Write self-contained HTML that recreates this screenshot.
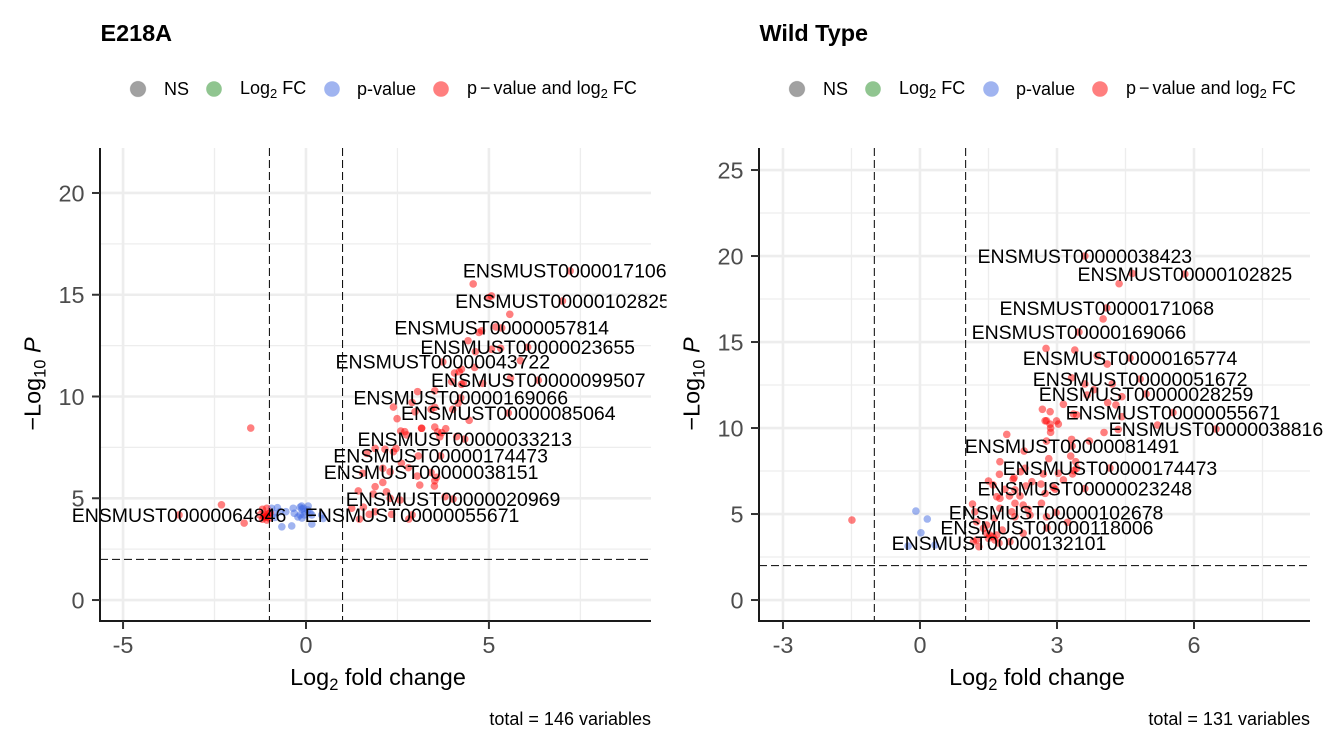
<!DOCTYPE html>
<html>
<head>
<meta charset="utf-8">
<title>Volcano plots</title>
<style>
html,body{margin:0;padding:0;background:#fff;}
svg{display:block;font-family:"Liberation Sans",sans-serif;}
</style>
</head>
<body>
<svg id="chart" width="1333" height="752" viewBox="0 0 1333 752" xmlns="http://www.w3.org/2000/svg">
<defs>
<clipPath id="left-clip"><rect x="0" y="0" width="666.5" height="752"/></clipPath>
<clipPath id="right-clip"><rect x="666.5" y="0" width="666.5" height="752"/></clipPath>
</defs>
<rect x="0" y="0" width="1333" height="752" fill="#fff"/>

<g id="panel-left"></g>
<g id="panel-right"></g>

<text x="100.5" y="41" font-size="23.4" font-weight="bold" fill="#000">E218A</text>
<text x="759.5" y="41" font-size="23.4" font-weight="bold" fill="#000">Wild Type</text>

<g font-size="18" fill="#000">
<circle cx="138" cy="89" r="7.8" fill="#000" fill-opacity=".37" stroke="#555" stroke-opacity=".2"/>
<text x="164" y="95">NS</text>
<circle cx="214" cy="89" r="7.8" fill="#228b22" fill-opacity=".5"/>
<text x="240" y="94">Log<tspan font-size="13" dy="4">2</tspan><tspan dy="-4"> FC</tspan></text>
<circle cx="332" cy="89" r="7.8" fill="#4169e1" fill-opacity=".5"/>
<text x="357" y="95">p-value</text>
<circle cx="441" cy="89" r="7.8" fill="#ff0000" fill-opacity=".5"/>
<text x="467" y="94">p<tspan dx="3">−</tspan><tspan dx="3">value and log</tspan><tspan font-size="13" dy="4">2</tspan><tspan dy="-4"> FC</tspan></text>
</g>

<g font-size="18" fill="#000">
<circle cx="797" cy="89" r="7.8" fill="#000" fill-opacity=".37" stroke="#555" stroke-opacity=".2"/>
<text x="823" y="95">NS</text>
<circle cx="873" cy="89" r="7.8" fill="#228b22" fill-opacity=".5"/>
<text x="899" y="94">Log<tspan font-size="13" dy="4">2</tspan><tspan dy="-4"> FC</tspan></text>
<circle cx="991" cy="89" r="7.8" fill="#4169e1" fill-opacity=".5"/>
<text x="1016" y="95">p-value</text>
<circle cx="1100" cy="89" r="7.8" fill="#ff0000" fill-opacity=".5"/>
<text x="1126" y="94">p<tspan dx="3">−</tspan><tspan dx="3">value and log</tspan><tspan font-size="13" dy="4">2</tspan><tspan dy="-4"> FC</tspan></text>
</g>

<text x="378" y="685" text-anchor="middle" font-size="23.4" fill="#000">Log<tspan font-size="16.5" dy="5">2</tspan><tspan dy="-5"> fold change</tspan></text>
<text x="1037" y="685" text-anchor="middle" font-size="23.4" fill="#000">Log<tspan font-size="16.5" dy="5">2</tspan><tspan dy="-5"> fold change</tspan></text>
<text transform="translate(40.5,384) rotate(-90)" text-anchor="middle" font-size="23.4" fill="#000">−Log<tspan font-size="16.5" dy="5">10</tspan><tspan dy="-5"> </tspan><tspan font-style="italic">P</tspan></text>
<text transform="translate(699.5,384) rotate(-90)" text-anchor="middle" font-size="23.4" fill="#000">−Log<tspan font-size="16.5" dy="5">10</tspan><tspan dy="-5"> </tspan><tspan font-style="italic">P</tspan></text>

<text x="651" y="725" text-anchor="end" font-size="18" fill="#000">total = 146 variables</text>
<text x="1310" y="725" text-anchor="end" font-size="18" fill="#000">total = 131 variables</text>
</svg>

<script>
// ---------- E218A data ----------
const leftXTicks = [-5, 0, 5];
const leftYTicks = [0, 5, 10, 15, 20];
const leftXMinor = [-2.5, 2.5, 7.5];
const leftYMinor = [2.5, 7.5, 12.5, 17.5];
const leftSigX = [4.57,5.07,4.98,5.57,5.19,4.80,4.73,4.43,5.32,5.07,
4.63,5.86,4.61,4.25,4.19,4.06,5.59,3.98,4.30,4.25,
4.83,3.52,3.05,2.90,4.16,2.39,3.52,3.42,2.98,4.01,
2.49,4.46,3.52,3.16,3.16,3.82,2.59,2.70,2.75,3.60,
3.71,3.66,4.12,1.89,2.16,2.46,2.39,1.66,3.07,2.61,
2.80,2.10,2.30,1.55,3.04,3.57,3.52,2.10,3.11,1.89,
3.51,1.43,1.84,2.20,2.30,2.57,3.80,1.25,1.57,1.89,
1.73,2.34,1.46,2.81,-1.51,-2.31,-1.69,-1.19,-1.07,-1.26,
-1.19,-1.12,-1.07,-0.98,-1.07,-1.15,-1.01,-1.04,-1.09];
const leftSigY = [15.53,14.94,14.85,14.04,13.42,13.23,13.15,12.74,12.37,12.32,
12.20,11.76,11.43,11.34,11.22,11.15,10.91,10.73,10.65,10.60,
10.65,10.28,10.24,9.71,9.67,9.48,9.47,9.37,9.25,9.37,
8.91,8.83,8.50,8.44,8.44,8.42,8.30,8.27,8.11,8.26,
8.22,8.02,8.03,7.45,7.41,7.45,7.29,7.21,7.08,6.72,
6.50,6.47,6.30,6.23,6.09,6.03,5.86,5.78,5.65,5.57,
5.60,5.36,5.21,5.32,5.00,4.91,5.08,4.51,4.56,4.34,
4.21,4.21,3.97,3.98,8.45,4.68,3.78,4.46,4.51,4.18,
3.97,4.18,4.08,4.28,3.93,4.08,4.03,4.23,4.13];
const leftPvalX = [-0.94,-0.78,-0.89,-0.71,-0.55,-0.85,-0.66,-0.39,-0.35,-0.16,-0.12,0.06,-0.07,-0.11,-0.32,-0.03,0.05,-0.22,-0.11,-0.16,-0.05,0.16,0.16,0.43,0.47,0.11];
const leftPvalY = [4.51,4.54,4.26,4.34,4.34,4.06,3.60,3.64,4.51,4.56,4.62,4.62,4.51,4.47,4.26,4.34,4.42,4.08,4.03,4.18,4.18,3.73,4.18,4.18,4.01,4.28];
const leftLabelNames = ["ENSMUST00000171068","ENSMUST00000102825","ENSMUST00000057814","ENSMUST00000023655","ENSMUST00000043722","ENSMUST00000099507","ENSMUST00000169066","ENSMUST00000085064","ENSMUST00000033213","ENSMUST00000174473","ENSMUST00000038151","ENSMUST00000020969","ENSMUST00000055671","ENSMUST00000064846"];
const leftLabelX = [7.22,7.01,5.35,6.06,3.74,6.35,4.23,5.53,4.34,3.68,3.42,4.02,2.90,-3.47];
const leftLabelY = [16.17,14.69,13.37,12.42,11.70,10.80,9.93,9.19,7.91,7.08,6.27,4.96,4.18,4.18];

// ---------- Wild Type data ----------
const rightXTicks = [-3, 0, 3, 6];
const rightYTicks = [0, 5, 10, 15, 20, 25];
const rightXMinor = [-1.5, 1.5, 4.5, 7.5];
const rightYMinor = [2.5, 7.5, 12.5, 17.5, 22.5];
const rightSigX = [4.65,4.36,4.01,2.76,3.39,3.88,4.10,3.32,3.61,4.21,
3.81,3.66,4.42,4.11,4.29,3.14,2.68,2.85,3.36,3.43,
4.42,2.77,2.74,2.99,2.85,3.03,2.86,5.20,4.34,4.03,
2.86,1.90,3.32,3.71,2.77,2.28,3.30,2.82,1.75,3.41,
3.43,3.37,3.34,1.74,2.30,2.20,2.70,3.03,2.06,2.04,
3.14,1.50,1.60,2.45,2.65,2.32,2.92,2.96,1.86,2.08,
2.74,1.68,1.75,1.96,2.19,2.08,1.15,2.66,2.26,1.75,
2.01,1.20,2.37,2.08,2.41,2.77,1.63,3.23,1.24,1.46,
1.80,2.26,1.39,1.46,1.53,1.60,1.68,1.50,1.64,1.17,
1.24,1.29,1.97,-1.49];
const rightSigY = [18.99,18.39,16.34,14.63,14.53,14.20,13.72,12.92,12.56,12.56,
12.23,11.92,11.82,11.47,11.34,11.38,11.09,10.95,10.81,10.76,
10.66,10.42,10.42,10.41,10.22,10.23,10.00,10.17,9.92,9.74,
9.75,9.63,9.34,9.24,9.24,8.66,8.37,8.22,8.04,8.04,
7.66,7.52,7.33,7.31,7.66,7.46,7.33,7.37,7.11,7.02,
6.98,6.92,6.69,6.88,6.74,6.63,6.55,6.44,6.44,6.40,
6.20,6.01,5.91,6.05,6.05,5.62,5.58,5.62,5.52,5.33,
5.13,5.13,5.27,4.84,4.94,4.84,4.75,4.52,4.55,4.36,
4.07,3.88,4.17,3.88,3.78,3.68,3.78,3.59,3.49,3.39,
3.49,3.10,3.39,4.65];
const rightPvalX = [-0.09,0.16,0.02,-0.26,0.33];
const rightPvalY = [5.17,4.71,3.91,3.14,3.20];
const rightLabelNames = ["ENSMUST00000038423","ENSMUST00000102825","ENSMUST00000171068","ENSMUST00000169066","ENSMUST00000165774","ENSMUST00000051672","ENSMUST00000028259","ENSMUST00000055671","ENSMUST00000038816","ENSMUST00000081491","ENSMUST00000174473","ENSMUST00000023248","ENSMUST00000102678","ENSMUST00000118006","ENSMUST00000132101"];
const rightLabelX = [3.61,5.80,4.09,3.48,4.60,4.82,4.95,5.54,6.48,3.33,4.16,3.61,2.98,2.78,1.73];
const rightLabelY = [20.00,18.95,16.98,15.58,14.07,12.85,11.98,10.90,9.94,8.95,7.67,6.48,5.09,4.19,3.31];

// Cut-offs
const fcCutoffs = [-1, 1];
const pCutoff = [2];

const NS = 'http://www.w3.org/2000/svg';

function makeScale(d0, d1, r0, r1) {
  return function (v) { return r0 + (v - d0) * (r1 - r0) / (d1 - d0); };
}

function add(parent, tag, attrs) {
  const el = document.createElementNS(NS, tag);
  for (const k in attrs) el.setAttribute(k, attrs[k]);
  parent.appendChild(el);
  return el;
}

function drawPanel(root, box, xDomain, yDomain, xTicks, yTicks, xMinor, yMinor, sigX, sigY, pvalX, pvalY, labelNames, labelX, labelY, clipId) {
  const x = makeScale(xDomain[0], xDomain[1], box.left, box.right);
  const y = makeScale(yDomain[0], yDomain[1], box.bottom, box.top);

  xMinor.forEach(function (v) {
    const el = add(root, 'line', {x1: x(v), x2: x(v), y1: box.top, y2: box.bottom, stroke: '#ededed', 'stroke-width': 1.3});
    
    
  });
  yMinor.forEach(function (v) {
    const el = add(root, 'line', {x1: box.left, x2: box.right, y1: y(v), y2: y(v), stroke: '#ededed', 'stroke-width': 1.3});
    
    
  });
  xTicks.forEach(function (v) {
    const el = add(root, 'line', {x1: x(v), x2: x(v), y1: box.top, y2: box.bottom, stroke: '#ededed', 'stroke-width': 2.6});
    
    
  });
  yTicks.forEach(function (v) {
    const el = add(root, 'line', {x1: box.left, x2: box.right, y1: y(v), y2: y(v), stroke: '#ededed', 'stroke-width': 2.6});
    
    
  });

  pvalX.forEach(function (v, i) {
    const el = add(root, 'circle', {cx: x(v), cy: y(pvalY[i]), r: 3.8, fill: '#4169e1', 'fill-opacity': 0.5});
    
    
  });
  sigX.forEach(function (v, i) {
    const el = add(root, 'circle', {cx: x(v), cy: y(sigY[i]), r: 3.8, fill: '#ff0000', 'fill-opacity': 0.5});
    
    
  });
  labelX.forEach(function (v, i) {
    const el = add(root, 'circle', {cx: x(v), cy: y(labelY[i]), r: 3.8, fill: '#ff0000', 'fill-opacity': 0.5});
    
    
  });

  fcCutoffs.forEach(function (v) {
    const el = add(root, 'line', {x1: x(v), x2: x(v), y1: box.top, y2: box.bottom, stroke: '#000', 'stroke-width': 1, 'stroke-dasharray': '8 4'});
    
    
  });
  pCutoff.forEach(function (v) {
    const el = add(root, 'line', {x1: box.left, x2: box.right, y1: y(v), y2: y(v), stroke: '#000', 'stroke-width': 1, 'stroke-dasharray': '8 4'});
    
    
  });

  const labelGroup = add(root, 'g', {'clip-path': 'url(#' + clipId + ')'});
  
  
  labelNames.forEach(function (name, i) {
    const el = add(labelGroup, 'text', {x: x(labelX[i]), y: y(labelY[i]) + 6.8, 'text-anchor': 'middle', 'font-size': 19.5, fill: '#000'});
    el.textContent = name;
    
    
  });

  const yAxis = add(root, 'line', {x1: box.left, x2: box.left, y1: box.top, y2: box.bottom + 1, stroke: '#1a1a1a', 'stroke-width': 2});
  
  
  const xAxis = add(root, 'line', {x1: box.left - 1, x2: box.right, y1: box.bottom, y2: box.bottom, stroke: '#1a1a1a', 'stroke-width': 2});
  
  

  xTicks.forEach(function (v) {
    const tick = add(root, 'line', {x1: x(v), x2: x(v), y1: box.bottom, y2: box.bottom + 8, stroke: '#333', 'stroke-width': 2});
    
    
    const lab = add(root, 'text', {x: x(v), y: box.bottom + 32, 'text-anchor': 'middle', 'font-size': 23.4, fill: '#4d4d4d'});
    lab.textContent = String(v);
    
    
  });
  yTicks.forEach(function (v) {
    const tick = add(root, 'line', {x1: box.left - 8, x2: box.left, y1: y(v), y2: y(v), stroke: '#333', 'stroke-width': 2});
    
    
    const lab = add(root, 'text', {x: box.left - 15.5, y: y(v) + 8.4, 'text-anchor': 'end', 'font-size': 23.4, fill: '#4d4d4d'});
    lab.textContent = String(v);
    
    
  });
}

drawPanel(document.getElementById('panel-left'),
  {left: 100, right: 651, top: 148, bottom: 621},
  [-5.63, 9.43], [-1.03, 22.21],
  leftXTicks, leftYTicks, leftXMinor, leftYMinor,
  leftSigX, leftSigY, leftPvalX, leftPvalY,
  leftLabelNames, leftLabelX, leftLabelY, 'left-clip');

drawPanel(document.getElementById('panel-right'),
  {left: 759, right: 1310, top: 148, bottom: 621},
  [-3.525, 8.54], [-1.22, 26.28],
  rightXTicks, rightYTicks, rightXMinor, rightYMinor,
  rightSigX, rightSigY, rightPvalX, rightPvalY,
  rightLabelNames, rightLabelX, rightLabelY, 'right-clip');
</script>
</body>
</html>
